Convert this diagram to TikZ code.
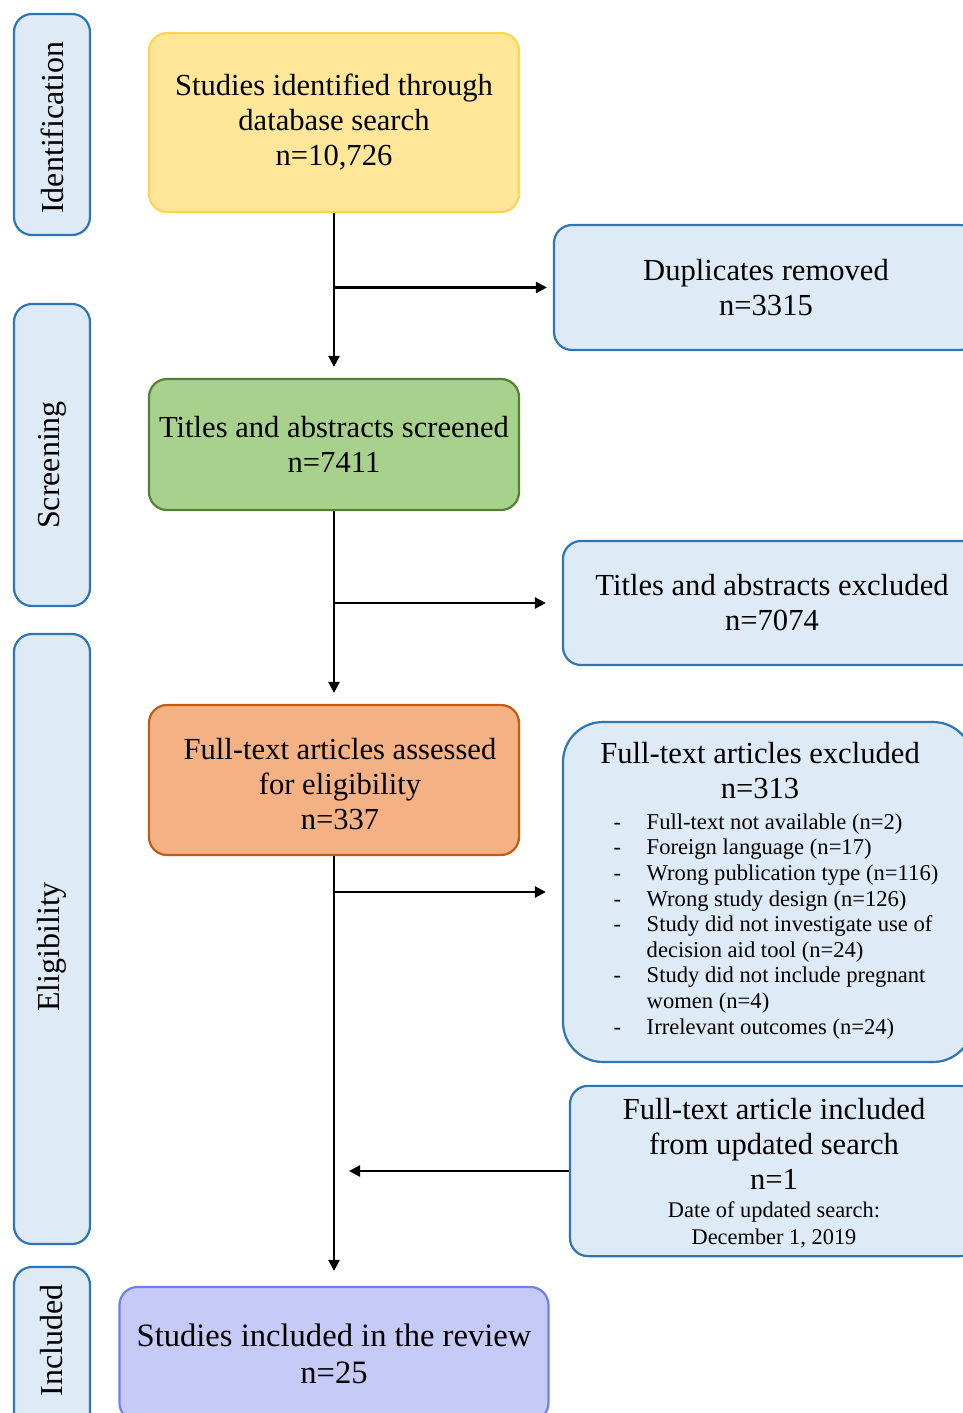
\documentclass[tikz,border=0pt]{standalone}
\usepackage{fontspec}
\setmainfont{Liberation Serif}
\usetikzlibrary{arrows.meta}
\definecolor{sidefill}{HTML}{DEEBF7}
\definecolor{sideline}{HTML}{2E75B6}
\definecolor{yfill}{HTML}{FFE699}
\definecolor{yline}{HTML}{FFD54F}
\definecolor{gfill}{HTML}{A9D18E}
\definecolor{gline}{HTML}{548235}
\definecolor{ofill}{HTML}{F4B183}
\definecolor{oline}{HTML}{C55A11}
\definecolor{pfill}{HTML}{C6CAF6}
\definecolor{pline}{HTML}{6F80EC}

\begin{document}
\begin{tikzpicture}[x=0.5pt,y=-0.5pt,font=\fontsize{15.3}{17.5}\selectfont,
    box/.style={draw,rounded corners=9pt,line width=1.1pt,align=center,inner sep=2pt},
    stage/.style={box,draw=sideline,fill=sidefill,rotate=90,minimum height=38pt,
      font=\fontsize{16}{18}\selectfont},
    sidebox/.style={box,draw=sideline,fill=sidefill},
    flow/.style={line width=1.2pt,-{Triangle[length=5.5pt,width=5.5pt]}}]
 \useasboundingbox (0,0) rectangle (963,1413);
 \clip (0,0) rectangle (963,1413);
 % stages on the left (\S moves the label along the bar)
 \foreach \Y/\H/\S/\T/\N in {124.5/110.5/-3/Identification/ident,455/151/-10/Screening/screen,
   939/305/-8/Eligibility/elig,1348.5/81.5/8/Included/incl}
 {\node[stage,minimum width=\H pt] (\N) at (52,\Y) {\hspace*{\S pt}\T};}
 % main column
 \node[box,draw=yline,fill=yfill,minimum width=185pt,minimum height=89.5pt]
  (search) at (334,122.5) {Studies identified through\\ database search\\ n=10,726};
 \node[box,draw=gline,fill=gfill,minimum width=185pt,minimum height=65.5pt]
  (screened) at (334,444.5) {Titles and abstracts screened\\ n=7411};
 \node[box,draw=oline,fill=ofill,minimum width=185pt,minimum height=75pt]
  (assessed) at (334,780) {\rule{0pt}{14.6pt}\hspace*{6pt}Full-text articles assessed\\
  \hspace*{6pt}for eligibility\\ \hspace*{6pt}n=337};
 \node[box,draw=pline,fill=pfill,minimum width=214.5pt,minimum height=67pt,
  font=\fontsize{16.3}{18.5}\selectfont]
  (included) at (334,1354) {Studies included in the review\\ n=25};
 % boxes on the right, cut by the border
 \node[sidebox,minimum width=212pt,minimum height=62.5pt]
  (dupl) at (766,287.5) {Duplicates removed\\ n=3315};
 \node[sidebox,minimum width=209pt,minimum height=62pt]
  (taexcl) at (772,603) {Titles and abstracts excluded\\ n=7074};
 \node[sidebox,rounded corners=20pt,minimum width=205pt,minimum height=170pt]
  (ftexcl) at (768,892) {\hspace*{-8pt}Full-text articles excluded\\
  \hspace*{-8pt}n=313\\[-2pt]
  {\fontsize{11.3}{12.8}\selectfont
  \begin{tabular}[t]{@{\hspace{8pt}}p{16.5pt}@{}l@{}}
  - & Full-text not available (n=2)\\
  - & Foreign language (n=17)\\
  - & Wrong publication type (n=116)\\
  - & Wrong study design (n=126)\\
  - & Study did not investigate use of\\
    & decision aid tool (n=24)\\
  - & Study did not include pregnant\\
    & women (n=4)\\
  - & Irrelevant outcomes (n=24)
  \end{tabular}}};
 \node[sidebox,minimum width=204pt,minimum height=85pt]
  (update) at (774,1171) {\rule{0pt}{14.6pt}Full-text article included\\
  from updated search\\ n=1\\[-3.5pt]
  {\fontsize{11.2}{13.5}\selectfont
  \begin{tabular}[t]{@{}c@{}}Date of updated search:\\ December 1, 2019\end{tabular}}};
 % connectors
 \draw[flow,shorten >=5.5pt] (search) -- (screened);
 \draw[flow,shorten >=3pt] (search.south |- dupl.west) -- (dupl.west);
 \draw[flow,shorten >=5.5pt] (screened) -- (assessed);
 \draw[flow,shorten >=8pt] (screened.south |- taexcl.west) -- (taexcl.west);
 \draw[flow,shorten >=7.5pt] (assessed) -- (included);
 \draw[flow,shorten >=8pt] (assessed.south |- ftexcl.west) -- (ftexcl.west);
 \draw[flow,shorten >=7.5pt] (update.west) -- (assessed.south |- update.west);
\end{tikzpicture}
\end{document}
